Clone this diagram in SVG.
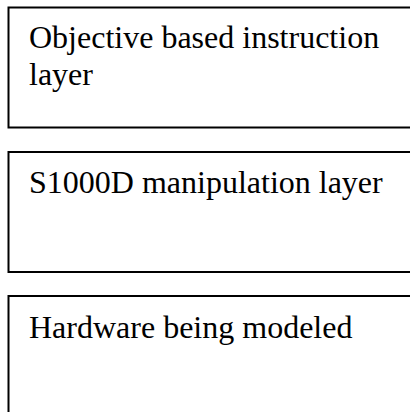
<svg xmlns="http://www.w3.org/2000/svg" width="410" height="412" viewBox="0 0 410 412">
<style>
.box{fill:#fff;stroke:#000;stroke-width:2}
.t{font-family:"Liberation Serif","Times New Roman",serif;font-size:32px;fill:#000}
</style>
<rect width="410" height="412" fill="#fff"/>
<g id="objective-layer">
<rect class="box" x="8.5" y="7.5" width="420" height="120"/>
<text class="t" x="29" y="48">Objective based instruction</text>
<text class="t" x="29" y="85">layer</text>
</g>
<g id="s1000d-layer">
<rect class="box" x="8.5" y="152" width="420" height="120"/>
<text class="t" x="29" y="193">S1000D manipulation layer</text>
</g>
<g id="hardware-layer">
<rect class="box" x="8.5" y="296" width="420" height="130"/>
<text class="t" x="29" y="338">Hardware being modeled</text>
</g>
<g id="connectors"/>
</svg>
